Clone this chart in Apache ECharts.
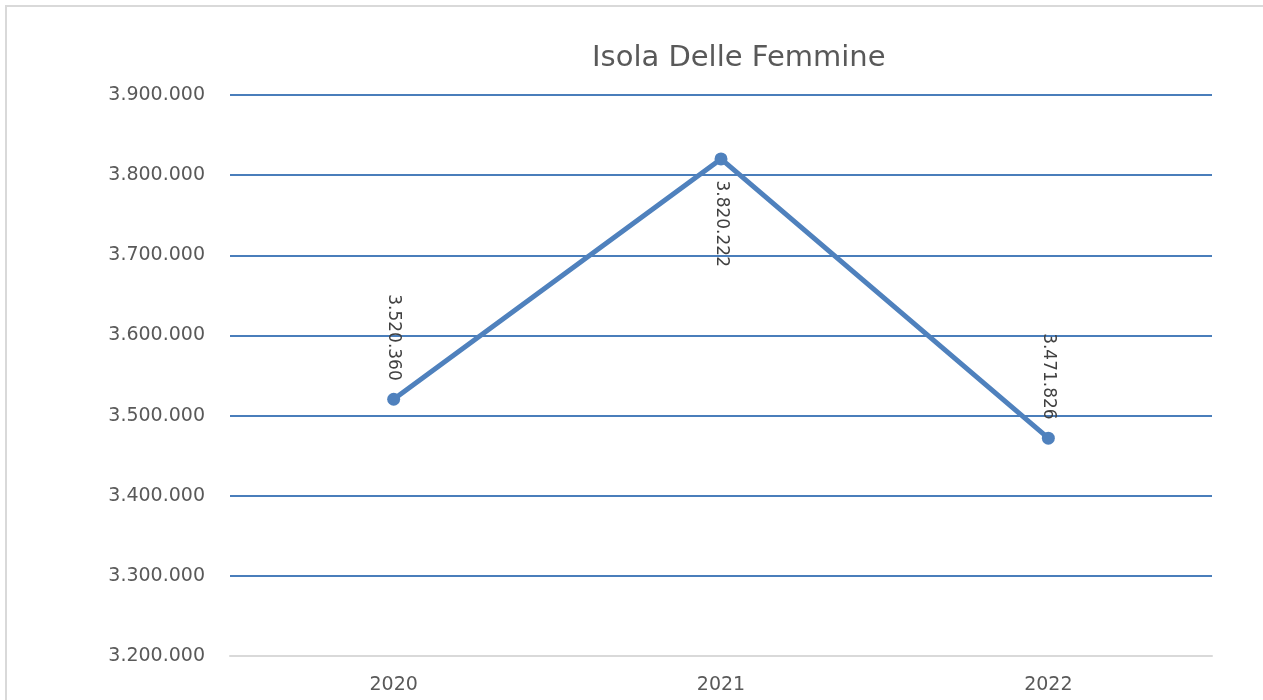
<!DOCTYPE html>
<html>
<head>
<meta charset="utf-8">
<title>Isola Delle Femmine</title>
<script src="https://cdn.jsdelivr.net/npm/echarts@6/dist/echarts.min.js"></script>
<style>
  html, body { margin: 0; padding: 0; background: #fff; }
  #chart { width: 1263px; height: 700px; }
</style>
</head>
<body>
<div id="chart"></div>
<script>
// dati
var years = ['2020', '2021', '2022']
var values = [3520360, 3820222, 3471826]
var yTicks = [3200000, 3900000, 100000] // min, max, passo

// 3520360 -> "3.520.360"
function fmt(v) {
  return String(v).replace(/\B(?=(\d{3})+(?!\d))/g, '.')
}

var chart = echarts.init(document.getElementById('chart'))

// etichetta sopra o sotto il punto (come nell'originale)
var seriesData = values.map(function(v, i) {
  var below = i === 1
  return {
    value: v,
    label: {
      position: below ? 'bottom' : 'top',
      align: below ? 'left' : 'right',
      distance: below ? 15 : 12
    }
  }
})

chart.setOption({
  animation: false,
  textStyle: { fontFamily: 'DejaVu Sans' },
  title: {
    text: 'Isola Delle Femmine',
    left: 587,
    top: 39,
    textStyle: {
      color: '#595959',
      fontSize: 29,
      fontWeight: 'normal',
      fontFamily: 'DejaVu Sans'
    }
  },
  graphic: [{
    type: 'rect',
    shape: { x: 6, y: 6, width: 1300, height: 720 },
    style: { fill: 'none', stroke: '#d9d9d9', lineWidth: 2 },
    silent: true
  }],
  grid: {
    left: 230,
    right: 51,
    top: 95,
    bottom: 44
  },
  xAxis: {
    type: 'category',
    data: years,
    z: 3,
    axisLine: { lineStyle: { color: '#d9d9d9', width: 2 } },
    axisTick: { show: false },
    axisLabel: {
      color: '#595959',
      fontSize: 19,
      margin: 20
    }
  },
  yAxis: {
    type: 'value',
    min: yTicks[0],
    max: yTicks[1],
    interval: yTicks[2],
    axisLine: { show: false },
    axisTick: { show: false },
    splitLine: { lineStyle: { color: '#4a7ebb', width: 2 } },
    axisLabel: {
      color: '#595959',
      fontSize: 19,
      margin: 25,
      formatter: fmt
    }
  },
  series: [{
    name: 'Isola Delle Femmine',
    type: 'line',
    data: seriesData,
    symbol: 'circle',
    symbolSize: 13,
    lineStyle: { color: '#4f81bd', width: 5 },
    itemStyle: { color: '#4f81bd' },
    label: {
      show: true,
      rotate: -90,
      verticalAlign: 'middle',
      color: '#404040',
      fontSize: 17,
      formatter: function(p) { return fmt(p.value) }
    }
  }]
})
</script>
</body>
</html>
